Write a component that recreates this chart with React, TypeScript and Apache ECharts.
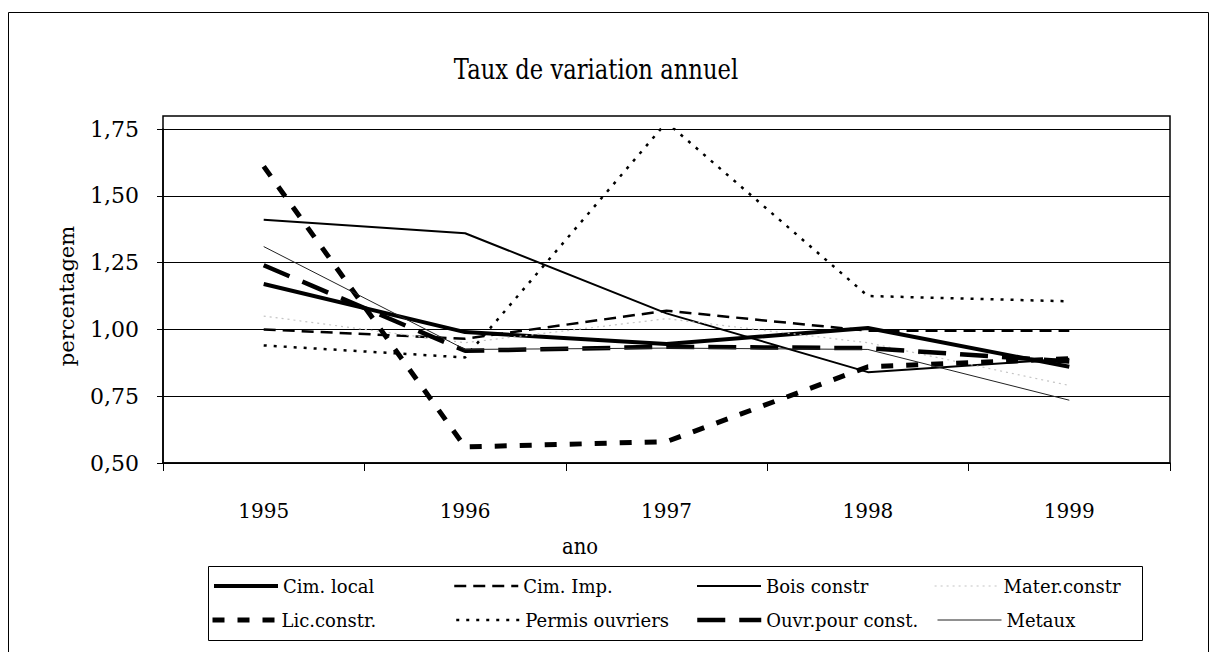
import React, { useEffect, useRef } from "react";
import * as echarts from "echarts";

const years = ["1995", "1996", "1997", "1998", "1999"];

const cimLocal = [1.17, 0.99, 0.945, 1.005, 0.86];
const cimImp = [1.0, 0.965, 1.07, 0.995, 0.995];
const boisConstr = [1.41, 1.36, 1.06, 0.84, 0.89];
const materConstr = [1.05, 0.95, 1.04, 0.95, 0.79];
const licConstr = [1.61, 0.56, 0.58, 0.86, 0.89];
const permisOuvriers = [0.94, 0.895, 1.775, 1.125, 1.105];
const ouvrPourConst = [1.24, 0.92, 0.935, 0.93, 0.88];
const metaux = [1.31, 0.925, 0.93, 0.925, 0.735];

const FONT = "DejaVu Serif";

type Def = {
  name: string;
  data: number[];
  width: number;
  dash: any;
  color: string;
  legendLeft: number;
  legendTop: number;
};

const defs: Def[] = [
  { name: "Cim. local", data: cimLocal, width: 4, dash: "solid", color: "#000", legendLeft: 212, legendTop: 577 },
  { name: "Cim. Imp.", data: cimImp, width: 2.5, dash: [12, 7], color: "#000", legendLeft: 453, legendTop: 577 },
  { name: "Bois constr", data: boisConstr, width: 2, dash: "solid", color: "#000", legendLeft: 696, legendTop: 577 },
  { name: "Mater.constr", data: materConstr, width: 1.2, dash: [2, 4], color: "#c4c4c4", legendLeft: 934, legendTop: 577 },
  { name: "Lic.constr.", data: licConstr, width: 5, dash: [12, 13], color: "#000", legendLeft: 210, legendTop: 611 },
  { name: "Permis ouvriers", data: permisOuvriers, width: 2.5, dash: [3, 7], color: "#000", legendLeft: 455, legendTop: 611 },
  { name: "Ouvr.pour const.", data: ouvrPourConst, width: 4.5, dash: [28, 14], color: "#000", legendLeft: 695, legendTop: 611 },
  { name: "Metaux", data: metaux, width: 1, dash: "solid", color: "#222", legendLeft: 937, legendTop: 611 },
];

export default function App() {
  const ref = useRef<HTMLDivElement>(null);
  useEffect(() => {
    const chart = echarts.init(ref.current!, null, { renderer: "svg" });
    chart.setOption({
      animation: false,
      backgroundColor: "#fff",
      textStyle: { fontFamily: FONT },
      grid: { left: 163, right: 47, top: 129, bottom: 189 },
      xAxis: {
        type: "category",
        data: years,
        boundaryGap: true,
        axisLine: { lineStyle: { color: "#000", width: 1.5 } },
        axisTick: { show: true, length: 8, lineStyle: { color: "#000" } },
        axisLabel: { color: "#000", fontFamily: FONT, fontSize: 20, margin: 38 },
        splitLine: { show: false },
      },
      yAxis: {
        type: "value",
        min: 0.5,
        max: 1.75,
        interval: 0.25,
        name: "percentagem",
        nameLocation: "middle",
        nameRotate: 90,
        nameGap: 86,
        nameTextStyle: { color: "#000", fontFamily: FONT, fontSize: 21 },
        axisLine: { show: true, lineStyle: { color: "#000", width: 1.5 } },
        axisTick: { show: true, length: 6, lineStyle: { color: "#000" } },
        axisLabel: {
          color: "#000",
          fontFamily: FONT,
          fontSize: 22,
          margin: 24,
          formatter: (v: number) => v.toFixed(2).replace(".", ","),
        },
        splitLine: { show: true, lineStyle: { color: "#000", width: 1 } },
      },
      legend: defs.map((d) => ({
        data: [d.name],
        left: d.legendLeft,
        top: d.legendTop,
        padding: 0,
        itemWidth: 64,
        itemHeight: 14,
        textStyle: { color: "#000", fontFamily: FONT, fontSize: 18 },
        lineStyle: { width: d.width, type: d.dash, color: d.color },
        itemStyle: { color: "rgba(0,0,0,0)", borderWidth: 0, opacity: 0 },
        selectedMode: false,
      })),
      series: defs.map((d) => ({
        name: d.name,
        type: "line",
        data: d.data,
        symbol: "none",
        showSymbol: false,
        lineStyle: { color: d.color, width: d.width, type: d.dash },
        itemStyle: { color: d.color },
        z: 3,
      })),
      graphic: [
        {
          type: "rect",
          shape: { x: 8.5, y: 12.5, width: 1200, height: 660 },
          style: { fill: "none", stroke: "#000", lineWidth: 1 },
          silent: true,
        },
        {
          type: "rect",
          shape: { x: 163, y: 116, width: 1007, height: 347 },
          style: { fill: "none", stroke: "#000", lineWidth: 1.5 },
          silent: true,
        },
        {
          type: "rect",
          shape: { x: 208.5, y: 566.5, width: 934, height: 74 },
          style: { fill: "none", stroke: "#000", lineWidth: 1 },
          silent: true,
        },
        {
          type: "text",
          x: 596,
          y: 70,
          scaleX: 0.84,
          style: {
            text: "Taux de variation annuel",
            fill: "#000",
            fontSize: 27,
            fontFamily: FONT,
            align: "center",
            verticalAlign: "middle",
          },
          silent: true,
        },
        {
          type: "text",
          x: 580,
          y: 546,
          scaleX: 0.85,
          style: {
            text: "ano",
            fill: "#000",
            fontSize: 23,
            fontFamily: FONT,
            align: "center",
            verticalAlign: "middle",
          },
          silent: true,
        },
      ],
    });
    return () => chart.dispose();
  }, []);
  return (
    <div
      ref={ref}
      style={{ position: "absolute", left: 0, top: 0, width: 1217, height: 652, background: "#fff" }}
    />
  );
}
